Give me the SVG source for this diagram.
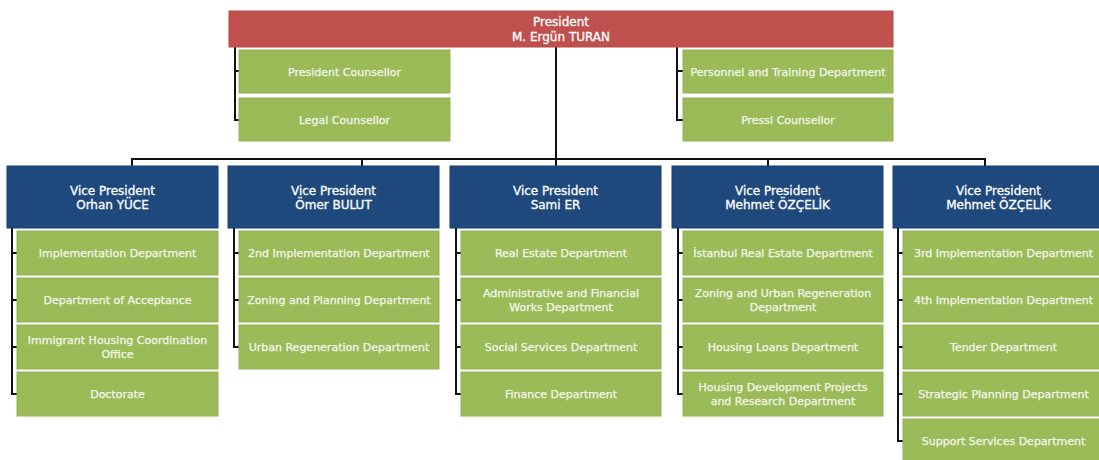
<svg xmlns="http://www.w3.org/2000/svg" width="1099" height="460" viewBox="0 0 1099 460">
  <style>
    .pres { fill: #c0504d; stroke: #b54a47; stroke-width: 1; }
    .vp { fill: #1f497d; stroke: #1a3f6c; stroke-width: 1; }
    .dept { fill: #9bbb59; stroke: #93b153; stroke-width: 1; }
    text { font-family: "DejaVu Sans", Verdana, sans-serif; text-anchor: middle; fill: #ffffff; stroke: #ffffff; stroke-width: 0.3; }
    .t12 { font-size: 12px; }
    .t11 { font-size: 11px; fill: #f4f7ec; stroke: #f4f7ec; stroke-width: 0.25; }
    .wire { fill: none; stroke: #111111; stroke-width: 2; }
  </style>
  <rect width="1099" height="460" fill="#ffffff"/>

  <!-- connectors -->
  <g id="connectors" class="wire">
    <path d="M556 47 V159"/>
    <path d="M132 166 V159 H985 V166"/>
    <path d="M362 159 V166 M556 159 V166 M768 159 V166"/>
    <path d="M235 47 V120 H239 M235 71 H239"/>
    <path d="M677 47 V120 H683 M677 71 H683"/>
    <path d="M12 228 V394 H17 M12 253 H17 M12 300 H17 M12 347 H17"/>
    <path d="M234 228 V347 H239 M234 253 H239 M234 300 H239"/>
    <path d="M456 228 V394 H461 M456 253 H461 M456 300 H461 M456 347 H461"/>
    <path d="M678 228 V394 H683 M678 253 H683 M678 300 H683 M678 347 H683"/>
    <path d="M898 228 V441 H903 M898 253 H903 M898 300 H903 M898 347 H903 M898 394 H903"/>
  </g>

  <g id="president">
    <rect class="pres" x="229" y="11" width="664" height="36"/>
    <text class="t12" x="561" y="26">President</text>
    <text class="t12" x="561" y="41">M. Ergün TURAN</text>
  </g>

  <g id="president-counsellor">
    <rect class="dept" x="239" y="50" width="211" height="43"/>
    <text class="t11" x="344.5" y="75.5">President Counsellor</text>
  </g>
  <g id="legal-counsellor">
    <rect class="dept" x="239" y="98" width="211" height="43"/>
    <text class="t11" x="344.5" y="123.5">Legal Counsellor</text>
  </g>
  <g id="personnel-training">
    <rect class="dept" x="683" y="50" width="210" height="43"/>
    <text class="t11" x="788" y="75.5">Personnel and Training Department</text>
  </g>
  <g id="press-counsellor">
    <rect class="dept" x="683" y="98" width="210" height="43"/>
    <text class="t11" x="788" y="123.5">Pressl Counsellor</text>
  </g>

  <!-- vice presidents -->
  <g id="vp-yuce">
    <rect class="vp" x="7" y="166" width="211" height="62"/>
    <text class="t12" x="112.5" y="195">Vice President</text>
    <text class="t12" x="112.5" y="209">Orhan YÜCE</text>
  </g>
  <g id="vp-bulut">
    <rect class="vp" x="228" y="166" width="211" height="62"/>
    <text class="t12" x="333.5" y="195">Vice President</text>
    <text class="t12" x="333.5" y="209">Ömer BULUT</text>
  </g>
  <g id="vp-er">
    <rect class="vp" x="450" y="166" width="211" height="62"/>
    <text class="t12" x="555.5" y="195">Vice President</text>
    <text class="t12" x="555.5" y="209">Sami ER</text>
  </g>
  <g id="vp-ozcelik-1">
    <rect class="vp" x="672" y="166" width="211" height="62"/>
    <text class="t12" x="777.5" y="195">Vice President</text>
    <text class="t12" x="777.5" y="209">Mehmet ÖZÇELİK</text>
  </g>
  <g id="vp-ozcelik-2">
    <rect class="vp" x="893" y="166" width="211" height="62"/>
    <text class="t12" x="998.5" y="195">Vice President</text>
    <text class="t12" x="998.5" y="209">Mehmet ÖZÇELİK</text>
  </g>

  <!-- column 1 -->
  <g id="implementation">
    <rect class="dept" x="17" y="231" width="201" height="44"/>
    <text class="t11" x="117.5" y="257">Implementation Department</text>
  </g>
  <g id="acceptance">
    <rect class="dept" x="17" y="278" width="201" height="44"/>
    <text class="t11" x="117.5" y="304">Department of Acceptance</text>
  </g>
  <g id="immigrant-housing">
    <rect class="dept" x="17" y="325" width="201" height="44"/>
    <text class="t11" x="117.5" y="344">Immigrant Housing Coordination</text>
    <text class="t11" x="117.5" y="358">Office</text>
  </g>
  <g id="doctorate">
    <rect class="dept" x="17" y="372" width="201" height="44"/>
    <text class="t11" x="117.5" y="398">Doctorate</text>
  </g>

  <!-- column 2 -->
  <g id="implementation-2">
    <rect class="dept" x="239" y="231" width="200" height="44"/>
    <text class="t11" x="339" y="257">2nd Implementation Department</text>
  </g>
  <g id="zoning-planning">
    <rect class="dept" x="239" y="278" width="200" height="44"/>
    <text class="t11" x="339" y="304">Zoning and Planning Department</text>
  </g>
  <g id="urban-regeneration">
    <rect class="dept" x="239" y="325" width="200" height="44"/>
    <text class="t11" x="339" y="351">Urban Regeneration Department</text>
  </g>

  <!-- column 3 -->
  <g id="real-estate">
    <rect class="dept" x="461" y="231" width="200" height="44"/>
    <text class="t11" x="561" y="257">Real Estate Department</text>
  </g>
  <g id="admin-financial">
    <rect class="dept" x="461" y="278" width="200" height="44"/>
    <text class="t11" x="561" y="297">Administrative and Financial</text>
    <text class="t11" x="561" y="311">Works Department</text>
  </g>
  <g id="social-services">
    <rect class="dept" x="461" y="325" width="200" height="44"/>
    <text class="t11" x="561" y="351">Social Services Department</text>
  </g>
  <g id="finance">
    <rect class="dept" x="461" y="372" width="200" height="44"/>
    <text class="t11" x="561" y="398">Finance Department</text>
  </g>

  <!-- column 4 -->
  <g id="istanbul-real-estate">
    <rect class="dept" x="683" y="231" width="200" height="44"/>
    <text class="t11" x="783" y="257">İstanbul Real Estate Department</text>
  </g>
  <g id="zoning-urban-regeneration">
    <rect class="dept" x="683" y="278" width="200" height="44"/>
    <text class="t11" x="783" y="297">Zoning and Urban Regeneration</text>
    <text class="t11" x="783" y="311">Department</text>
  </g>
  <g id="housing-loans">
    <rect class="dept" x="683" y="325" width="200" height="44"/>
    <text class="t11" x="783" y="351">Housing Loans Department</text>
  </g>
  <g id="housing-development">
    <rect class="dept" x="683" y="372" width="200" height="44"/>
    <text class="t11" x="783" y="391">Housing Development Projects</text>
    <text class="t11" x="783" y="405">and Research Department</text>
  </g>

  <!-- column 5 -->
  <g id="implementation-3">
    <rect class="dept" x="903" y="231" width="201" height="44"/>
    <text class="t11" x="1003.5" y="257">3rd Implementation Department</text>
  </g>
  <g id="implementation-4">
    <rect class="dept" x="903" y="278" width="201" height="44"/>
    <text class="t11" x="1003.5" y="304">4th Implementation Department</text>
  </g>
  <g id="tender">
    <rect class="dept" x="903" y="325" width="201" height="44"/>
    <text class="t11" x="1003.5" y="351">Tender Department</text>
  </g>
  <g id="strategic-planning">
    <rect class="dept" x="903" y="372" width="201" height="44"/>
    <text class="t11" x="1003.5" y="398">Strategic Planning Department</text>
  </g>
  <g id="support-services">
    <rect class="dept" x="903" y="419" width="201" height="44"/>
    <text class="t11" x="1003.5" y="445">Support Services Department</text>
  </g>
</svg>
